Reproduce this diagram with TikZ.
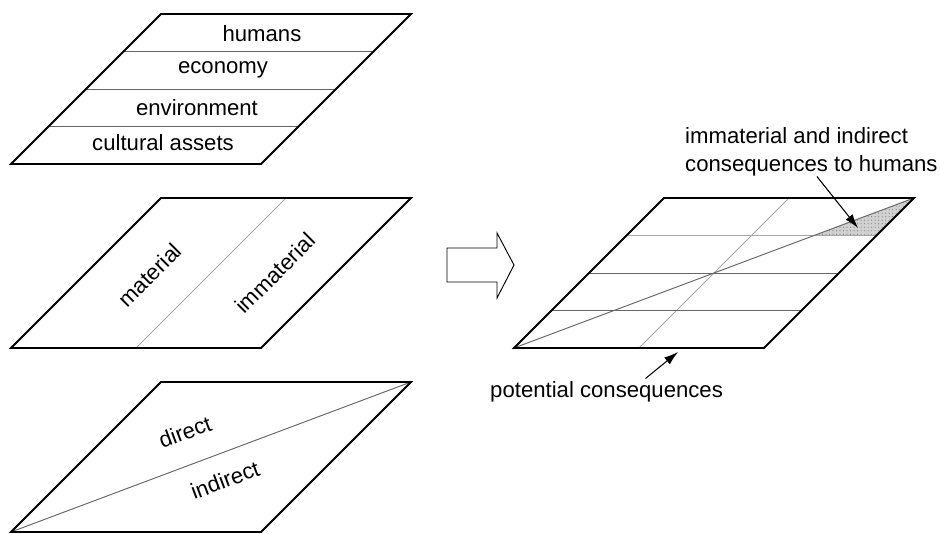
\documentclass[tikz,border=0pt]{standalone}
\usepackage{fontspec}
\setmainfont{Liberation Sans}
\usetikzlibrary{arrows.meta,calc,patterns}

\tikzset{
  frame/.style={line width=1.6pt, line join=miter},
  sep/.style={line width=0.8pt, black!60},
  lightsep/.style={line width=0.8pt, black!35},
  lbl/.style={font=\fontsize{18.9}{23.8}\selectfont, inner sep=0pt},
  pointer/.style={-{Latex[length=12pt,width=7.5pt]}, line width=0.9pt},
}

\begin{document}
\begin{tikzpicture}[x=1.5cm,y=1.5cm]
  \useasboundingbox (0,0) rectangle (18.8,10.66);

  % Layer 1: receptors
  \begin{scope}[shift={(0.22,7.38)}]
    \foreach \h in {0.75,1.5,2.25}
      \draw[sep] (\h,\h) -- (5+\h,\h);
    \draw[frame] (0,0) -- (5,0) -- (8,3) -- (3,3) -- cycle;
    \foreach \x/\y/\t [count=\i] in {3.04/0.42/cultural assets, 3.72/1.12/environment, 4.24/1.88/economy, 5.02/2.60/humans}
      \node[lbl] (rec\i) at (\x,\y) {\t};
  \end{scope}

  % Layer 2: material / immaterial
  \begin{scope}[shift={(0.22,3.70)}]
    \draw[lightsep] (2.5,0) -- (5.5,3);
    \draw[frame] (0,0) -- (5,0) -- (8,3) -- (3,3) -- cycle;
    \node[lbl, rotate=45] (mat) at (2.78,1.46) {material};
    \node[lbl, rotate=45] (immat) at (5.28,1.5) {immaterial};
  \end{scope}

  % Layer 3: direct / indirect
  \begin{scope}[shift={(0.22,0.02)}]
    \draw[sep] (0,0) -- (8,3);
    \draw[frame] (0,0) -- (5,0) -- (8,3) -- (3,3) -- cycle;
    \node[lbl, rotate=20.56] (dir) at (3.48,2.0) {direct};
    \node[lbl, rotate=20.56] (indir) at (4.28,1.04) {indirect};
  \end{scope}

  % Block arrow
  \draw[line width=0.8pt] (8.94,5.02) -- (9.94,5.02) -- (9.94,4.7) -- (10.28,5.36)
    -- (9.94,6.0) -- (9.94,5.7) -- (8.94,5.7) -- cycle;

  % Combined layer
  \begin{scope}[shift={(10.28,3.70)}]
    \fill[black!18] (6,2.25) -- (7.25,2.25) -- (8,3) -- cycle;
    \fill[pattern=dots, pattern color=black!50] (6,2.25) -- (7.25,2.25) -- (8,3) -- cycle;
    \draw[lightsep] (2.5,0) -- (5.5,3);
    \draw[lightsep] (2.25,2.25) -- (7.25,2.25);
    \foreach \h in {0.75,1.5}
      \draw[sep] (\h,\h) -- (5+\h,\h);
    \draw[sep] (0,0) -- (8,3);
    \draw[frame] (0,0) -- (5,0) -- (8,3) -- (3,3) -- cycle;
    \coordinate (hatch) at (6.88,2.4);
    \coordinate (edge) at (3.28,-0.08);
  \end{scope}

  \node[lbl, anchor=west, align=left] (humcons) at (13.7,7.62)
    {immaterial and indirect\\consequences to humans};
  \node[lbl, anchor=west] (potcons) at (9.8,2.82) {potential consequences};

  \draw[pointer] ($(humcons.south)+(0.11,0)$) -- (hatch);
  \draw[pointer] ($(potcons.north)+(0.78,0.06)$) -- (edge);
\end{tikzpicture}
\end{document}
